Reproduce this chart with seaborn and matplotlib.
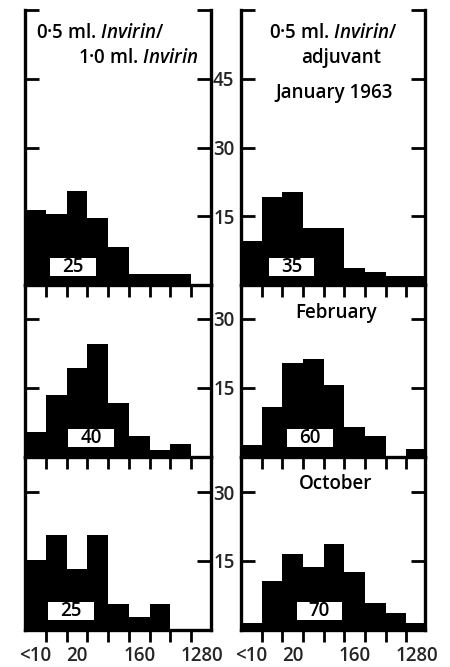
import numpy as np
import pandas as pd
import matplotlib
matplotlib.use("Agg")
import matplotlib.pyplot as plt
import seaborn as sns
from matplotlib.patches import Rectangle

# ---- data -------------------------------------------------------------
titres = ["<10", "10", "20", "40", "80", "160", "320", "640", "1280"]
shown_titres = ["<10", "20", "160", "1280"]
months = ["January 1963", "February", "October"]

jan_invirin = [16.4, 15.5, 20.6, 14.6, 8.3, 2.4, 2.4, 2.4, 0.0]
jan_adjuvant = [9.7, 19.3, 20.4, 12.5, 12.5, 3.8, 2.8, 1.9, 1.9]
feb_invirin = [5.4, 13.4, 19.3, 24.5, 11.6, 4.5, 1.5, 2.8, 0.0]
feb_adjuvant = [2.5, 10.7, 20.4, 21.3, 15.7, 6.5, 4.5, 0.0, 1.7]
oct_invirin = [15.2, 20.7, 13.3, 20.7, 5.5, 2.7, 5.5, 0.0, 0.0]
oct_adjuvant = [1.4, 10.5, 16.4, 13.6, 18.6, 12.6, 5.8, 3.6, 1.4]

n_invirin = [25, 40, 25]
n_adjuvant = [35, 60, 70]

yticks_top = [15, 30, 45, 60]
yticks_lower = [15, 30]

# ---- style ------------------------------------------------------------
FONT = "Open Sans"
sns.set_theme(style="white")
plt.rcParams["font.family"] = [FONT, "DejaVu Sans"]
plt.rcParams["font.weight"] = "semibold"
plt.rcParams["mathtext.fontset"] = "custom"
plt.rcParams["mathtext.rm"] = FONT + ":semibold"
plt.rcParams["mathtext.it"] = FONT + ":italic:semibold"

W, H = 450, 667
fig = plt.figure(figsize=(W / 100, H / 100), dpi=100)
fig.patch.set_facecolor("white")

def px_axes(x0, x1, y0, y1):
    return fig.add_axes([x0 / W, 1 - y1 / H, (x1 - x0) / W, (y1 - y0) / H])

cols = [(25, 211, 8.95), (241, 425, 8.9)]
rows = [(10, 285, 60.0), (285, 456.5, 37.4), (456.5, 629.5, 37.8)]

data = [[jan_invirin, jan_adjuvant], [feb_invirin, feb_adjuvant], [oct_invirin, oct_adjuvant]]
ns = [[n_invirin[i], n_adjuvant[i]] for i in range(3)]
box_x = [[2.3, 2.44], [3.17, 3.33], [2.22, 3.79]]

FS = 13.5
edges = [float(e) for e in range(len(titres) + 1)]
centers = [e + 0.5 for e in edges[:-1]]

for r, (y0, y1, ymax) in enumerate(rows):
    for c, (x0, x1, xmax) in enumerate(cols):
        ax = px_axes(x0, x1, y0, y1)
        ax.set_facecolor("none")
        df = pd.DataFrame({"titre": titres, "pos": centers, "pct": data[r][c]})
        sns.histplot(data=df, x="pos", weights="pct", bins=edges, element="step",
                     fill=True, color="black", alpha=1, linewidth=0, ax=ax)
        ax.set_xlim(0, xmax)
        ax.set_ylim(0, ymax)
        ax.set_xlabel("")
        ax.set_ylabel("")
        for s in ["left", "right", "bottom"]:
            ax.spines[s].set_visible(True)
            ax.spines[s].set_linewidth(2.4)
            ax.spines[s].set_color("black")
        ax.spines["top"].set_visible(False)

        yt = yticks_top if r == 0 else yticks_lower
        ax.set_yticks(yt)
        ax.tick_params(axis="y", which="major", direction="in", left=True, right=True,
                       length=10, width=2, color="black", labelsize=FS, pad=1.5,
                       labelleft=False, labelright=(c == 0))
        if c == 0:
            ax.set_yticklabels([str(v) if v < 60 else "" for v in yt])

        ax.set_xticks(edges[1:-1])
        ax.set_xticklabels([])
        ax.tick_params(axis="x", which="major", direction="out", bottom=True, top=False,
                       length=8.5, width=2, color="black")
        if r == 2:
            ax.set_xticks([centers[titres.index(t)] for t in shown_titres], minor=True)
            ax.set_xticklabels(shown_titres, minor=True)
            ax.tick_params(axis="x", which="minor", length=0, labelsize=FS, pad=12)
        ax.grid(False)

        bw, bh = 2.2, 3.9
        bx = box_x[r][c]
        ax.add_patch(Rectangle((bx - bw / 2, 4 - bh / 2), bw, bh, facecolor="white",
                               edgecolor="none", zorder=5))
        ax.text(bx, 4, str(ns[r][c]), ha="center", va="center", fontsize=FS, zorder=6,
                color="black")

def ftext(x, y, s, ha="center"):
    fig.text(x / W, 1 - y / H, s, ha=ha, va="center", fontsize=FS, color="black")

ftext(36, 33, "0·5 ml. $\\mathit{Invirin}$/", ha="left")
ftext(198, 58, "1·0 ml. $\\mathit{Invirin}$", ha="right")
ftext(333, 33, "0·5 ml. $\\mathit{Invirin}$/")
ftext(341, 58, "adjuvant")
ftext(334, 93, months[0])
ftext(336, 313, months[1])
ftext(336, 484, months[2])

fig.savefig("out.png", dpi=100, facecolor="white")
